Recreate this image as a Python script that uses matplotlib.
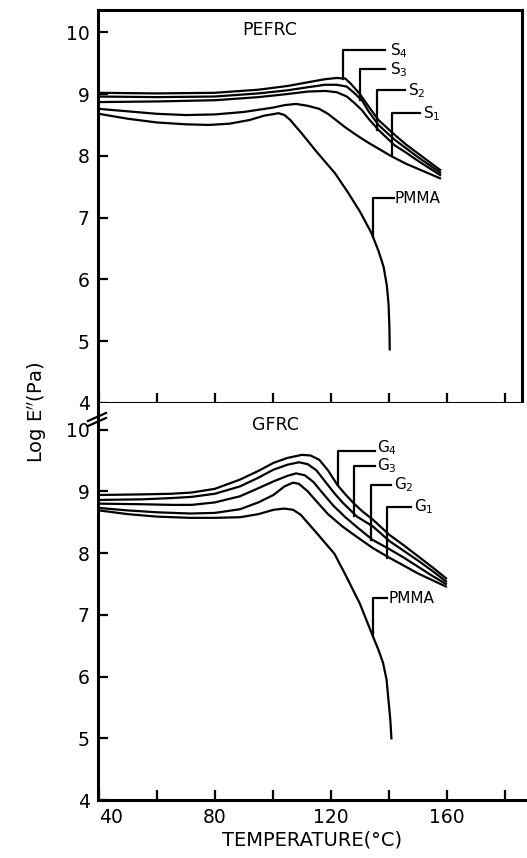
import matplotlib
matplotlib.use("Agg")
import matplotlib.pyplot as plt
from matplotlib.ticker import FixedLocator
from matplotlib.lines import Line2D

plt.rcParams['font.family'] = ['DejaVu Sans']

# ---------------- data: PEFRC (top panel) ----------------
s4_t = [40, 60, 80, 95, 105, 112, 118, 122, 125, 127, 130, 133, 136.4, 142, 146, 150, 154, 158]
s4_v = [9.02, 9.01, 9.02, 9.07, 9.13, 9.19, 9.24, 9.26, 9.25, 9.16, 9.00, 8.80, 8.58, 8.34, 8.18, 8.04, 7.90, 7.76]
s3_t = [40, 60, 80, 95, 105, 112, 118, 122, 125.5, 128, 130.7, 133, 136.4, 142, 146, 150, 154, 158]
s3_v = [8.96, 8.95, 8.96, 9.01, 9.06, 9.11, 9.15, 9.15, 9.12, 9.02, 8.90, 8.72, 8.50, 8.26, 8.12, 7.98, 7.85, 7.72]
s2_t = [40, 60, 80, 95, 105, 112, 118, 122, 125.5, 128, 130.7, 133, 136.4, 142, 146, 150, 154, 158]
s2_v = [8.87, 8.88, 8.90, 8.95, 9.00, 9.04, 9.05, 9.03, 8.96, 8.86, 8.74, 8.60, 8.42, 8.17, 8.05, 7.92, 7.80, 7.68]
s1_t = [40, 50, 60, 70, 80, 90, 100, 104, 108, 112, 116, 119, 122, 125, 129, 133, 137, 141, 146, 150, 154, 158]
s1_v = [8.76, 8.72, 8.68, 8.66, 8.67, 8.71, 8.78, 8.82, 8.84, 8.81, 8.76, 8.68, 8.57, 8.46, 8.33, 8.21, 8.10, 7.99, 7.87, 7.79, 7.71, 7.63]
pm1_t = [40, 50, 60, 70, 78, 85, 92, 97, 102, 104, 106, 110, 115, 121.4, 126, 130, 134, 136.5, 138.2, 139.3, 139.9, 140.2, 140.3]
pm1_v = [8.68, 8.60, 8.54, 8.51, 8.50, 8.52, 8.58, 8.65, 8.69, 8.66, 8.58, 8.36, 8.07, 7.72, 7.40, 7.10, 6.75, 6.45, 6.20, 5.90, 5.60, 5.20, 4.85]

# ---------------- data: GFRC (bottom panel) ----------------
g4_t = [40, 55, 65, 72, 80, 88.7, 95, 100.2, 105, 110, 113, 116, 119, 122.3, 125, 128, 131, 134.5, 140.3, 145, 150, 155, 160]
g4_v = [8.94, 8.95, 8.96, 8.98, 9.04, 9.19, 9.33, 9.46, 9.54, 9.59, 9.58, 9.51, 9.34, 9.10, 8.95, 8.80, 8.67, 8.54, 8.29, 8.13, 7.95, 7.77, 7.58]
g3_t = [40, 55, 65, 72, 80, 88.7, 95, 100.2, 105, 109, 112, 115, 118, 121, 124, 129, 134.5, 140.3, 145, 150, 155, 160]
g3_v = [8.86, 8.87, 8.89, 8.91, 8.96, 9.08, 9.22, 9.35, 9.43, 9.47, 9.44, 9.34, 9.16, 8.98, 8.82, 8.59, 8.43, 8.19, 8.04, 7.88, 7.71, 7.53]
g2_t = [40, 55, 65, 72, 80, 88.7, 95, 100.2, 105, 108, 111, 114, 117, 121, 125, 129, 134.5, 140.3, 145, 150, 155, 160]
g2_v = [8.80, 8.79, 8.78, 8.78, 8.82, 8.92, 9.05, 9.16, 9.25, 9.29, 9.26, 9.15, 8.98, 8.76, 8.58, 8.42, 8.21, 8.06, 7.93, 7.78, 7.63, 7.49]
g1_t = [40, 50, 60, 71.3, 80, 88.7, 95, 100.2, 104, 107, 109, 112, 115, 119, 124, 129, 134.5, 140.3, 145, 150, 155, 160]
g1_v = [8.73, 8.69, 8.66, 8.64, 8.65, 8.71, 8.82, 8.94, 9.08, 9.14, 9.12, 9.00, 8.84, 8.63, 8.43, 8.26, 8.08, 7.92, 7.80, 7.67, 7.56, 7.45]
pm2_t = [40, 50, 60, 71.3, 80, 88.7, 95, 100.2, 104, 107, 109.6, 115, 121.2, 125, 130, 134.5, 136.5, 138, 139.2, 139.9, 140.5, 140.9]
pm2_v = [8.69, 8.63, 8.59, 8.57, 8.57, 8.58, 8.63, 8.70, 8.72, 8.70, 8.62, 8.33, 7.99, 7.65, 7.18, 6.65, 6.42, 6.22, 5.95, 5.60, 5.30, 4.98]

y_ticks = [4, 5, 6, 7, 8, 9, 10]
x_ticks_major = [40, 80, 120, 160]
x_ticks_minor = [60, 100, 140, 180]

W, H = 527, 858
fig = plt.figure(figsize=(W / 100, H / 100), dpi=100)

left_px, right_px = 98, 522
ax1 = fig.add_axes([left_px / W, 1 - 403 / H, (right_px - left_px) / W, (403 - 10) / H])
ax2 = fig.add_axes([left_px / W, 1 - 800 / H, (527 - left_px) / W, (800 - 403) / H])

LW = 1.6
SP = 2.2
for ax in (ax1, ax2):
    ax.set_xlim(39.7, 39.7 + (right_px - left_px) / 2.9)
    ax.yaxis.set_major_locator(FixedLocator(y_ticks))
    ax.xaxis.set_major_locator(FixedLocator(x_ticks_major))
    ax.xaxis.set_minor_locator(FixedLocator(x_ticks_minor))
    ax.tick_params(axis='both', which='both', direction='in', length=7, width=1.6,
                   labelsize=13.5, pad=6)
    for sp in ax.spines.values():
        sp.set_linewidth(SP)

ax2.set_xlim(39.7, 39.7 + (527 - left_px) / 2.9)
ax1.set_ylim(4, 10.36)
ax2.set_ylim(4, 10.43)
ax1.tick_params(axis='x', labelbottom=False)
ax2.spines['top'].set_visible(False)
ax2.spines['right'].set_visible(False)
ax2.set_yticks(y_ticks)
ax2.set_yticklabels([str(v) for v in y_ticks])
ax1.set_yticklabels([str(v) for v in y_ticks])
ax2.set_xticklabels([str(v) for v in x_ticks_major])
lbls = ax2.get_xticklabels()
lbls[0].set_horizontalalignment('left')

# curves
for t, v in [(s4_t, s4_v), (s3_t, s3_v), (s2_t, s2_v), (s1_t, s1_v), (pm1_t, pm1_v)]:
    ax1.plot(t, v, color='black', lw=LW, solid_capstyle='butt')
for t, v in [(g4_t, g4_v), (g3_t, g3_v), (g2_t, g2_v), (g1_t, g1_v), (pm2_t, pm2_v)]:
    ax2.plot(t, v, color='black', lw=LW, solid_capstyle='butt')

def leader(ax, x0, y0, y1, x1, text, tx, ty_off=0.0, fs=11):
    ax.plot([x0, x0, x1], [y0, y1, y1], color='black', lw=LW)
    ax.text(tx, y1 + ty_off, text, fontsize=fs, va='center', ha='left')

# top leaders
leader(ax1, 124.3, 9.25, 9.71, 138.6, 'S$_4$', 140.3)
leader(ax1, 130.1, 8.90, 9.40, 138.6, 'S$_3$', 140.3)
leader(ax1, 135.9, 8.42, 9.06, 145.6, 'S$_2$', 146.6)
leader(ax1, 141.0, 7.99, 8.69, 150.7, 'S$_1$', 151.7)
leader(ax1, 134.7, 6.69, 7.31, 141.6, 'PMMA', 142.0, fs=11)

# bottom leaders
leader(ax2, 122.3, 9.10, 9.66, 135.1, 'G$_4$', 136.0, 0.04)
leader(ax2, 127.9, 8.60, 9.41, 135.1, 'G$_3$', 136.0, 0.0)
leader(ax2, 133.7, 8.21, 9.10, 140.9, 'G$_2$', 141.8)
leader(ax2, 139.4, 7.92, 8.75, 147.8, 'G$_1$', 148.8)
leader(ax2, 134.6, 6.65, 7.27, 139.5, 'PMMA', 140.0, fs=11)

ax1.text(99, 10.04, 'PEFRC', fontsize=12.5, ha='center', va='center')
ax2.text(101, 10.07, 'GFRC', fontsize=12.5, ha='center', va='center')

ax2.set_xlabel('TEMPERATURE(°C)', fontsize=14, labelpad=2)
fig.text(37 / W, 1 - 412 / H, 'Log E$^{\\prime\\prime}$(Pa)', rotation=90, fontsize=14,
         ha='center', va='center')

# axis break marks on left spine
for dy in (0, 5):
    fig.add_artist(Line2D([88 / W, 106 / W], [1 - (421 + dy) / H, 1 - (413 + dy) / H],
                          color='black', lw=1.6, transform=fig.transFigure))

fig.savefig('out.png', dpi=100)
